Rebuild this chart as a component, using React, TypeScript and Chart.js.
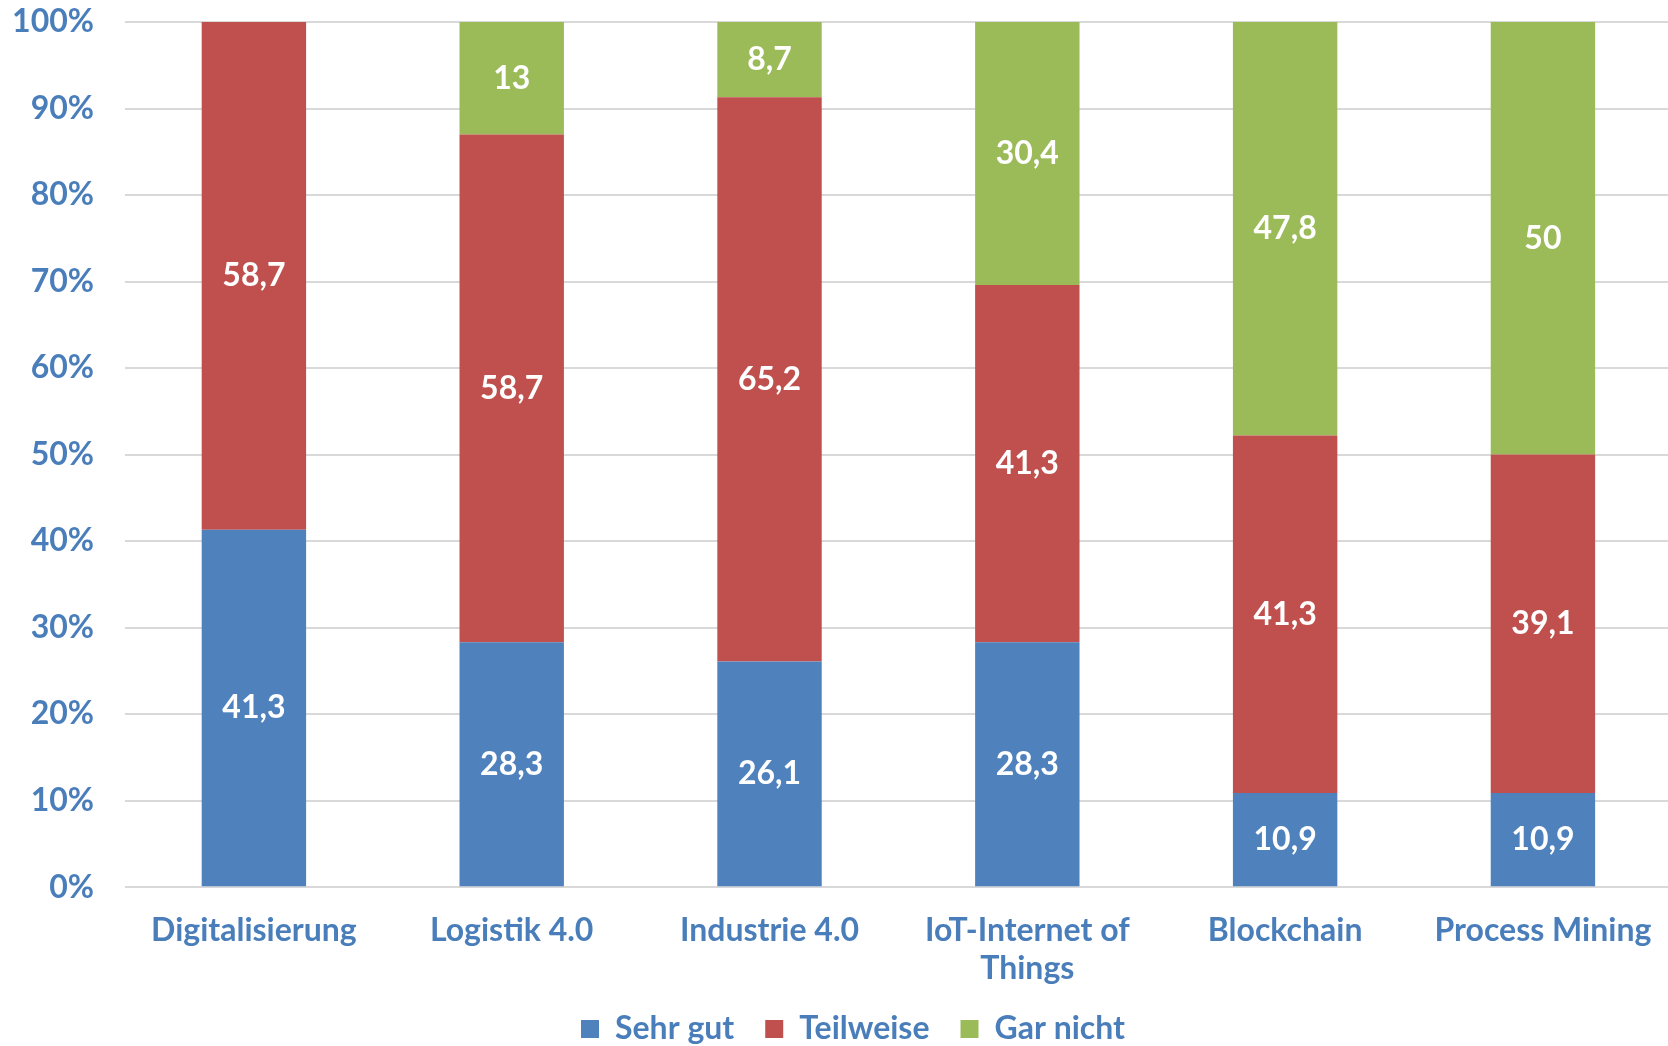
import React, { useEffect, useRef } from "react";
import { Chart, registerables } from "chart.js";

Chart.register(...registerables);

const categories: (string | string[])[] = [
  "Digitalisierung",
  "Logistik 4.0",
  "Industrie 4.0",
  ["IoT-Internet of", "Things"],
  "Blockchain",
  "Process Mining",
];
const sehrGut = [41.3, 28.3, 26.1, 28.3, 10.9, 10.9];
const teilweise = [58.7, 58.7, 65.2, 41.3, 41.3, 39.1];
const garNicht = [0, 13, 8.7, 30.4, 47.8, 50];
const seriesNames = ["Sehr gut", "Teilweise", "Gar nicht"];
const yTicks = [0, 10, 20, 30, 40, 50, 60, 70, 80, 90, 100];

const BLUE = "#4F81BD";
const RED = "#C0504D";
const GREEN = "#9BBB59";
const TEXT = "#4A7EBB";
const FONT = "Lato";

const labelPlugin = {
  id: "barLabels",
  afterLayout(chart: any) {
    const x = chart.scales.x;
    if (x) {
      x._computeLabelArea = () => undefined;
      x.right += 8;
      x.width += 8;
      x.configure();
      chart.chartArea.right += 8;
      chart.chartArea.width += 8;
    }
    const lg = chart.legend;
    if (lg) {
      lg.left += 19;
      lg.right += 19;
    }
  },
  afterDatasetsDraw(chart: any) {
    const ctx = chart.ctx;
    ctx.save();
    ctx.font = `bold 32px ${FONT}`;
    ctx.fillStyle = "#ffffff";
    ctx.textAlign = "center";
    ctx.textBaseline = "middle";
    chart.data.datasets.forEach((ds: any, i: number) => {
      const meta = chart.getDatasetMeta(i);
      meta.data.forEach((bar: any, j: number) => {
        const v = ds.data[j];
        if (!v) return;
        const y = (bar.y + bar.base) / 2;
        ctx.fillText(String(v).replace(".", ","), bar.x, y);
      });
    });
    ctx.restore();
  },
};

export default function App() {
  const ref = useRef<HTMLCanvasElement>(null);
  useEffect(() => {
    document.body.style.margin = "0";
    const chart = new Chart(ref.current!, {
      type: "bar",
      data: {
        labels: categories,
        datasets: [
          { label: seriesNames[0], data: sehrGut, backgroundColor: BLUE },
          { label: seriesNames[1], data: teilweise, backgroundColor: RED },
          { label: seriesNames[2], data: garNicht, backgroundColor: GREEN },
        ],
      },
      options: {
        animation: false,
        responsive: false,
        maintainAspectRatio: false,
        datasets: { bar: { categoryPercentage: 1, barPercentage: 0.405 } },
        layout: { padding: { top: 22, left: 0, right: 0, bottom: -9 } },
        scales: {
          x: {
            stacked: true,
            grid: { display: false, drawTicks: false },
            border: { display: false },
            afterFit: (axis: any) => {
              axis.height = axis.height - 30;
            },
            ticks: {
              color: TEXT,
              font: { family: FONT, size: 32, weight: "bold" },
              padding: 24,
              maxRotation: 0,
              autoSkip: false,
            },
          },
          y: {
            stacked: true,
            min: 0,
            max: 100,
            afterBuildTicks: (axis: any) => {
              axis.ticks = yTicks.map((v) => ({ value: v }));
            },
            afterFit: (axis: any) => {
              axis.width = 125;
            },
            grid: {
              color: "#D9D9D9",
              lineWidth: 2,
              drawTicks: true,
              tickLength: 31,
              tickColor: "rgba(0,0,0,0)",
            },
            border: { display: false },
            ticks: {
              color: TEXT,
              font: { family: FONT, size: 32, weight: "bold" },
              padding: 0,
              callback: (v: any) => v + "%",
            },
          },
        },
        plugins: {
          legend: {
            position: "bottom",
            labels: {
              color: TEXT,
              font: { family: FONT, size: 32, weight: "bold" },
              boxWidth: 18,
              boxHeight: 18,
              padding: 31,
              useBorderRadius: false,
            },
          },
          tooltip: { enabled: false },
        },
      },
      plugins: [labelPlugin],
    });
    return () => chart.destroy();
  }, []);
  return (
    <div style={{ width: 1668, height: 1046, overflow: "hidden" }}>
      <canvas ref={ref} width={1668} height={1046} style={{ display: "block" }} />
    </div>
  );
}
